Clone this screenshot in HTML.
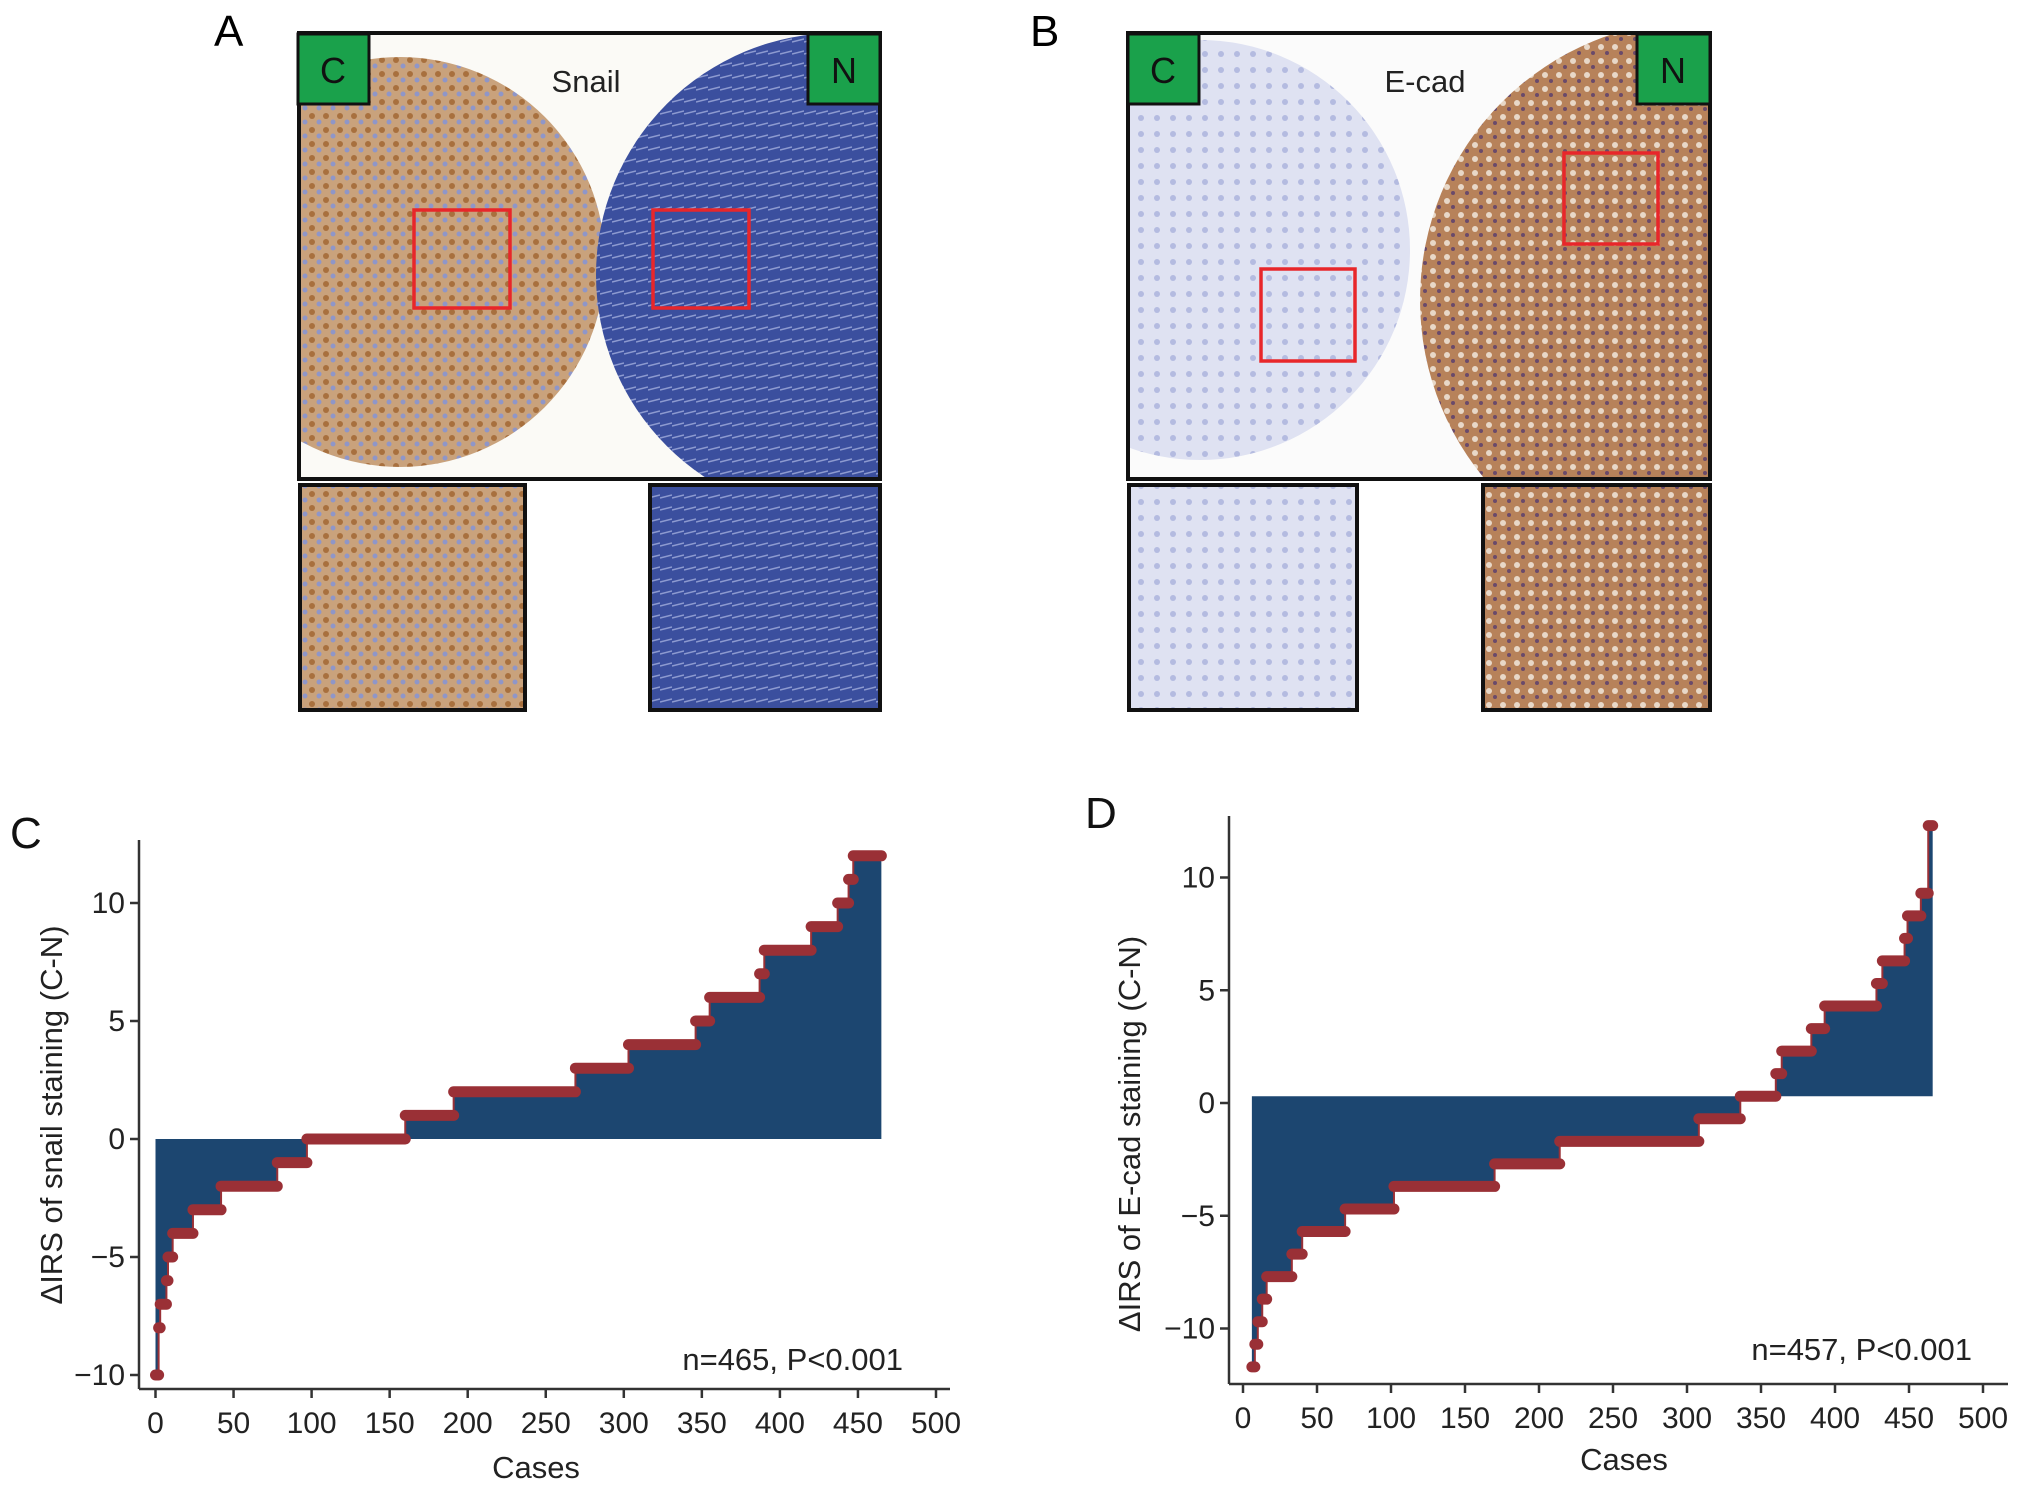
<!DOCTYPE html>
<html><head><meta charset="utf-8"><style>
html,body{margin:0;padding:0;background:#fff;}
svg{display:block;font-family:"Liberation Sans",Arial,sans-serif;}
</style></head><body>
<svg id="fig" width="2032" height="1491" viewBox="0 0 2032 1491">
<defs>
<pattern id="pBrown" width="14" height="14" patternUnits="userSpaceOnUse"><rect width="14" height="14" fill="#c9a27c"/><circle cx="4" cy="4" r="3" fill="#a8703e"/><circle cx="11" cy="10" r="2.5" fill="#8f96c8"/></pattern>
<pattern id="pBlue" width="12" height="12" patternUnits="userSpaceOnUse"><rect width="12" height="12" fill="#3b4f9e"/><path d="M0 6 L12 3" stroke="#8d9ad0" stroke-width="1.5"/></pattern>
<pattern id="pLight" width="16" height="16" patternUnits="userSpaceOnUse"><rect width="16" height="16" fill="#dfe2f2"/><circle cx="5" cy="6" r="3" fill="#b4bbe0"/></pattern>
<pattern id="pBrown2" width="14" height="14" patternUnits="userSpaceOnUse"><rect width="14" height="14" fill="#b7825a"/><circle cx="5" cy="5" r="3" fill="#e8d8c8"/><circle cx="11" cy="11" r="2" fill="#6a4a6a"/></pattern>
<clipPath id="clipA"><rect x="300" y="34" width="579" height="444"/></clipPath>
<clipPath id="clipB"><rect x="1129" y="34" width="580" height="444"/></clipPath>
</defs>

<g>
<text x="214" y="46" font-size="44">A</text>
<g clip-path="url(#clipA)">
<rect x="300" y="34" width="579" height="444" fill="#fbfaf6"/>
<circle cx="400" cy="262" r="205" fill="url(#pBrown)"/>
<circle cx="838" cy="275" r="242" fill="url(#pBlue)"/>
</g>
<rect x="299" y="33" width="581" height="446" fill="none" stroke="#111" stroke-width="4"/>
<rect x="298" y="34" width="71" height="70" fill="#1aa14b" stroke="#111" stroke-width="3"/>
<text x="333" y="83" font-size="36" text-anchor="middle" fill="#111">C</text>
<rect x="808" y="34" width="72" height="70" fill="#1aa14b" stroke="#111" stroke-width="3"/>
<text x="844" y="83" font-size="36" text-anchor="middle" fill="#111">N</text>
<text x="586" y="92" font-size="31" text-anchor="middle" fill="#222">Snail</text>
<rect x="414" y="210" width="96" height="98" fill="none" stroke="#e8262a" stroke-width="3.5"/>
<rect x="653" y="210" width="96" height="98" fill="none" stroke="#e8262a" stroke-width="3.5"/>
<rect x="300" y="485" width="225" height="225" fill="url(#pBrown)" stroke="#111" stroke-width="4"/>
<rect x="650" y="485" width="230" height="225" fill="url(#pBlue)" stroke="#111" stroke-width="4"/>
</g>

<g>
<text x="1030" y="46" font-size="44">B</text>
<g clip-path="url(#clipB)">
<rect x="1129" y="34" width="580" height="444" fill="#fbfbfb"/>
<circle cx="1200" cy="250" r="210" fill="url(#pLight)"/>
<circle cx="1700" cy="300" r="280" fill="url(#pBrown2)"/>
</g>
<rect x="1128" y="33" width="582" height="446" fill="none" stroke="#111" stroke-width="4"/>
<rect x="1128" y="34" width="71" height="70" fill="#1aa14b" stroke="#111" stroke-width="3"/>
<text x="1163" y="83" font-size="36" text-anchor="middle" fill="#111">C</text>
<rect x="1637" y="34" width="73" height="70" fill="#1aa14b" stroke="#111" stroke-width="3"/>
<text x="1673" y="83" font-size="36" text-anchor="middle" fill="#111">N</text>
<text x="1425" y="92" font-size="31" text-anchor="middle" fill="#222">E-cad</text>
<rect x="1261" y="269" width="94" height="92" fill="none" stroke="#e8262a" stroke-width="3.5"/>
<rect x="1564" y="153" width="94" height="91" fill="none" stroke="#e8262a" stroke-width="3.5"/>
<rect x="1129" y="485" width="228" height="225" fill="url(#pLight)" stroke="#111" stroke-width="4"/>
<rect x="1483" y="485" width="227" height="225" fill="url(#pBrown2)" stroke="#111" stroke-width="4"/>
</g>

<g id="chartC"></g>
<g id="chartD"></g>
</svg>
<script>
// Chart C data (snail)
const cStart = [0, 2, 3, 7, 8, 11, 24, 42, 78, 97, 160, 191, 269, 303, 346, 355, 387, 390, 420, 437, 444, 447];
const cEnd   = [2, 3, 7, 8, 11, 24, 42, 78, 97, 160, 191, 269, 303, 346, 355, 387, 390, 420, 437, 444, 447, 465];
const cValue = [-10, -8, -7, -6, -5, -4, -3, -2, -1, 0, 1, 2, 3, 4, 5, 6, 7, 8, 9, 10, 11, 12];
// Chart D data (E-cad)
const dStart = [6, 8, 10, 13, 16, 33, 40, 69, 102, 170, 214, 308, 336, 360, 364, 384, 393, 428, 432, 447, 449, 458, 463];
const dEnd   = [8, 10, 13, 16, 33, 40, 69, 102, 170, 214, 308, 336, 360, 364, 384, 393, 428, 432, 447, 449, 458, 463, 466];
const dValue = [-12, -11, -10, -9, -8, -7, -6, -5, -4, -3, -2, -1, 0, 1, 2, 3, 4, 5, 6, 7, 8, 9, 12];
const xTicks = [0, 50, 100, 150, 200, 250, 300, 350, 400, 450, 500];
const cYTicks = [-10, -5, 0, 5, 10];
const dYTicks = [-10, -5, 0, 5, 10];

const NS = 'http://www.w3.org/2000/svg';
function mk(parent, tag, attrs, text) {
  const e = document.createElementNS(NS, tag);
  for (const k in attrs) e.setAttribute(k, attrs[k]);
  if (text !== undefined) e.textContent = text;
  parent.appendChild(e);
  return e;
}

function drawChart(g, cfg, starts, ends, vals, yTicks) {
  const X = v => cfg.x0 + v * cfg.xs;
  const Y = v => cfg.y0 - (v + cfg.shift) * cfg.ys;
  let d = 'M' + X(starts[0]) + ' ' + Y(0);
  for (let i = 0; i < starts.length; i++) {
    d += ' L' + X(starts[i]) + ' ' + Y(vals[i]) + ' L' + X(ends[i]) + ' ' + Y(vals[i]);
  }
  d += ' L' + X(ends[ends.length - 1]) + ' ' + Y(0) + ' Z';
  const area = mk(g, 'path', {d: d, fill: '#1c4670'});
  
  
  for (let i = 0; i < starts.length; i++) {
    const seg = mk(g, 'line', {x1: X(starts[i]), y1: Y(vals[i]), x2: X(ends[i]), y2: Y(vals[i]), stroke: '#9a3036', 'stroke-width': 11, 'stroke-linecap': 'round'});
    
    
    if (i > 0) {
      mk(g, 'line', {x1: X(starts[i]), y1: Y(vals[i - 1]), x2: X(starts[i]), y2: Y(vals[i]), stroke: '#9a3036', 'stroke-width': 2});
    }
  }
  const ax = mk(g, 'line', {x1: cfg.axX, y1: cfg.axTop, x2: cfg.axX, y2: cfg.axBot, stroke: '#333', 'stroke-width': 2.5});
  
  
  const bx = mk(g, 'line', {x1: cfg.axX, y1: cfg.axBot, x2: cfg.axRight, y2: cfg.axBot, stroke: '#333', 'stroke-width': 2.5});
  
  
  xTicks.forEach(t => {
    mk(g, 'line', {x1: X(t), y1: cfg.axBot, x2: X(t), y2: cfg.axBot + 9, stroke: '#333', 'stroke-width': 2.5});
    const tl = mk(g, 'text', {x: X(t), y: cfg.axBot + 44, 'font-size': 30, 'text-anchor': 'middle', fill: '#222'}, t);
    
    
  });
  yTicks.forEach(t => {
    const yy = cfg.y0 - t * cfg.ys;
    mk(g, 'line', {x1: cfg.axX - 9, y1: yy, x2: cfg.axX, y2: yy, stroke: '#333', 'stroke-width': 2.5});
    const tl = mk(g, 'text', {x: cfg.axX - 14, y: yy + 10, 'font-size': 30, 'text-anchor': 'end', fill: '#222'}, t < 0 ? '\u2212' + Math.abs(t) : t);
    
    
  });
  const xt = mk(g, 'text', {x: cfg.xtX, y: cfg.xtY, 'font-size': 31, 'text-anchor': 'middle', fill: '#222'}, 'Cases');
  
  
  const yt = mk(g, 'text', {x: 0, y: 0, 'font-size': 31, 'text-anchor': 'middle', fill: '#222', transform: 'translate(' + cfg.ytX + ',' + cfg.ytY + ') rotate(-90)'}, cfg.yTitle);
  
  
  const an = mk(g, 'text', {x: cfg.anX, y: cfg.anY, 'font-size': 31, 'text-anchor': 'end', fill: '#222'}, cfg.note);
  
  
  const pl = mk(g, 'text', {x: cfg.plX, y: cfg.plY, 'font-size': 44, fill: '#111'}, cfg.letter);
  
  
}

drawChart(document.getElementById('chartC'), {
  x0: 155.5, xs: 1.561, y0: 1139, ys: 23.6, shift: 0,
  axX: 139, axTop: 840, axBot: 1389, axRight: 950,
  xtX: 536, xtY: 1478, ytX: 62, ytY: 1115, yTitle: '\u0394IRS of snail staining (C-N)',
  anX: 903, anY: 1370, note: 'n=465, P<0.001', plX: 10, plY: 848, letter: 'C'
}, cStart, cEnd, cValue, cYTicks);

drawChart(document.getElementById('chartD'), {
  x0: 1243, xs: 1.48, y0: 1103, ys: 22.55, shift: 0.3,
  axX: 1229, axTop: 816, axBot: 1384, axRight: 2008,
  xtX: 1624, xtY: 1470, ytX: 1140, ytY: 1134, yTitle: '\u0394IRS of E-cad staining (C-N)',
  anX: 1972, anY: 1360, note: 'n=457, P<0.001', plX: 1085, plY: 828, letter: 'D'
}, dStart, dEnd, dValue, dYTicks);
</script>
</body></html>
